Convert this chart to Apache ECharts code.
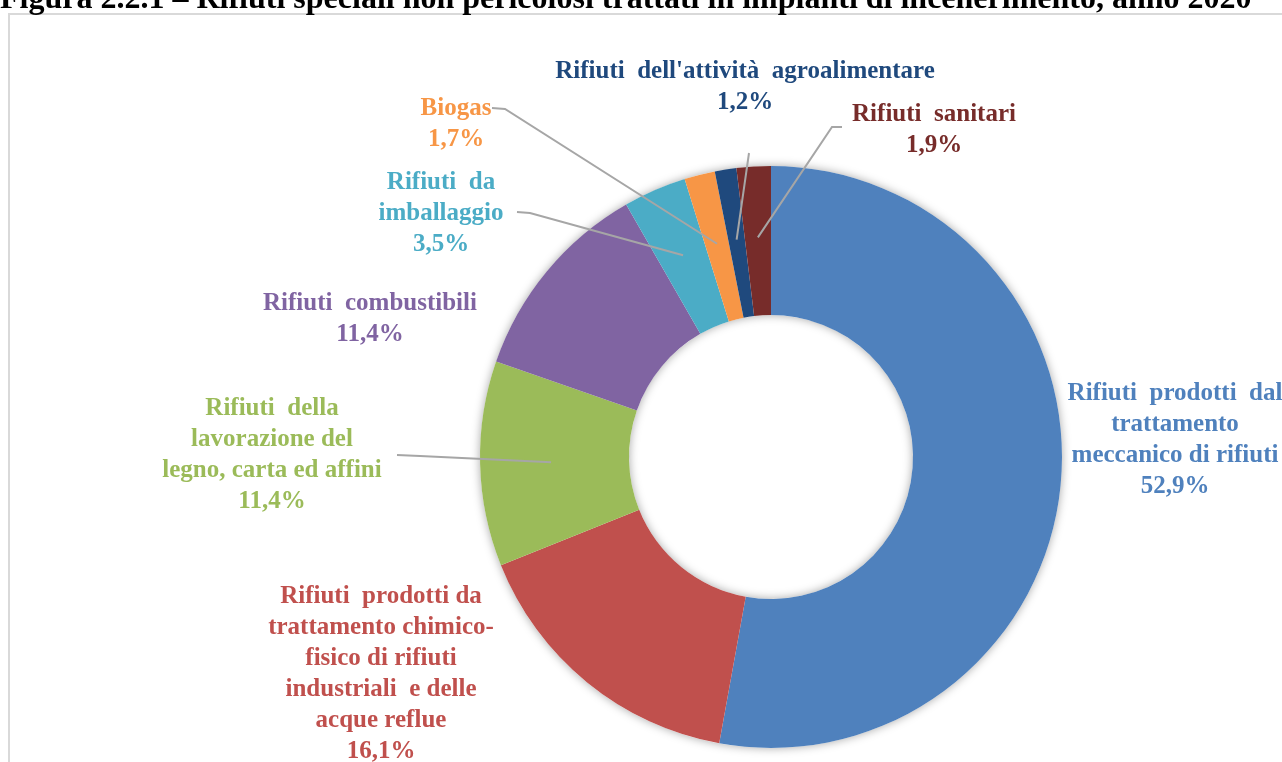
<!DOCTYPE html>
<html><head><meta charset="utf-8">
<script src="https://cdn.jsdelivr.net/npm/echarts@6/dist/echarts.min.js"></script>
<style>html,body{margin:0;padding:0;background:#fff}#main{width:1282px;height:762px}</style>
</head><body><div id="main"></div>
<script>
const titleText = 'Figura 2.2.1 – Rifiuti speciali non pericolosi trattati in impianti di incenerimento, anno 2020';
const categories = [
  'Rifiuti prodotti dal trattamento meccanico di rifiuti',
  'Rifiuti prodotti da trattamento chimico-fisico di rifiuti industriali e delle acque reflue',
  'Rifiuti della lavorazione del legno, carta ed affini',
  'Rifiuti combustibili',
  'Rifiuti da imballaggio',
  'Biogas',
  "Rifiuti dell'attività agroalimentare",
  'Rifiuti sanitari'
];
const labelNames = [
  'Rifiuti  prodotti  dal\ntrattamento\nmeccanico di rifiuti',
  'Rifiuti  prodotti da\ntrattamento chimico-\nfisico di rifiuti\nindustriali  e delle\nacque reflue',
  'Rifiuti  della\nlavorazione del\nlegno, carta ed affini',
  'Rifiuti  combustibili',
  'Rifiuti  da\nimballaggio',
  'Biogas',
  "Rifiuti  dell'attività  agroalimentare",
  'Rifiuti  sanitari'
];
const values = [52.9, 16.1, 11.4, 11.4, 3.5, 1.7, 1.2, 1.9];
const colors = ['#4F81BD', '#C0504D', '#9BBB59', '#8064A2', '#4BACC6', '#F79646', '#1F497D', '#772C2A'];

// layout (pixels)
const cx = 771, cy = 457, rIn = 142, rOut = 291, rLead = 220;
const labelPlace = [[1175, 440], [381, 674], [272, 455], [370, 319], [441, 214], [456, 124], [745, 87], [934, 130]];
const leaderTail = [null, null, [[420, 456], [397, 455]], null, [[530, 213], [517, 212]], [[505, 109], [492, 108]], [[748, 160], [749, 153]], [[832, 127], [842, 127]]];

const fmt = v => v.toFixed(1).replace('.', ',') + '%';
const total = values.reduce((a, b) => a + b, 0);

const chart = echarts.init(document.getElementById('main'));
chart.setOption({
  backgroundColor: '#fff',
  animation: false,
  graphic: [
    { type: 'rect', z: -10, shape: { x: 9, y: 14, width: 1300, height: 800 }, style: { fill: '#fff', stroke: '#d9d9d9', lineWidth: 2 } },
    { type: 'text', z: 10, x: 0, y: 0, style: { text: titleText, font: 'bold 32px "Liberation Serif"', fill: '#000', verticalAlign: 'middle', align: 'left' } }
  ],
  series: [
    {
      type: 'pie', silent: true, z: 1,
      center: [cx, cy], radius: [rIn, rOut],
      label: { show: false }, labelLine: { show: false },
      itemStyle: { color: '#fff', shadowBlur: 10, shadowColor: 'rgba(0,0,0,0.35)' },
      data: [{ value: total, name: 'ring' }]
    },
    {
      type: 'pie', z: 2, silent: true,
      center: [cx, cy], radius: [rIn, rOut],
      startAngle: 90, clockwise: true,
      itemStyle: { borderWidth: 0 },
      label: { show: false }, labelLine: { show: false },
      data: values.map((v, i) => ({ value: v, name: categories[i], itemStyle: { color: colors[i] } }))
    },
    {
      type: 'pie', z: 3, silent: true,
      center: [cx, cy], radius: [rIn, rLead],
      startAngle: 90, clockwise: true,
      avoidLabelOverlap: false,
      itemStyle: { color: 'rgba(0,0,0,0)', borderWidth: 0 },
      label: {
        show: true, position: 'outside',
        fontFamily: 'Liberation Serif', fontWeight: 'bold', fontSize: 25, lineHeight: 31,
        align: 'center'
      },
      labelLine: { show: true, lineStyle: { color: '#a6a6a6', width: 2 } },
      labelLayout: function (params) {
        const i = params.dataIndex;
        const p = labelPlace[i];
        const res = { x: p[0], y: p[1], align: 'center', verticalAlign: 'middle' };
        if (leaderTail[i] && params.labelLinePoints) {
          res.labelLinePoints = [params.labelLinePoints[0]].concat(leaderTail[i]);
        }
        return res;
      },
      data: values.map((v, i) => ({
        value: v,
        name: categories[i],
        label: { color: colors[i], formatter: labelNames[i] + '\n' + fmt(v), align: 'center' },
        labelLine: { show: !!leaderTail[i] }
      }))
    }
  ]
});
</script></body></html>
